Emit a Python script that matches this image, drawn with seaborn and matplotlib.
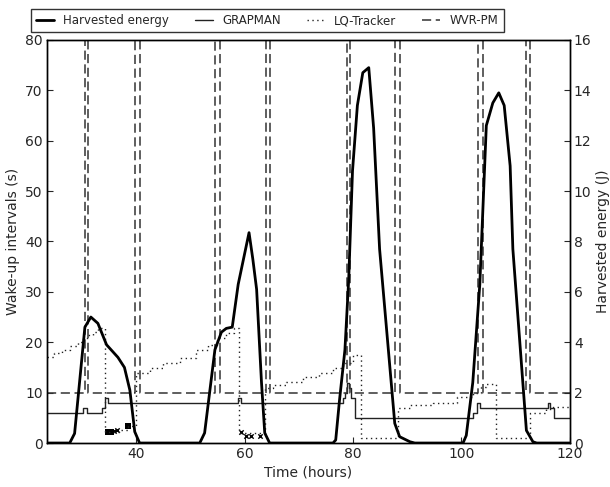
import numpy as np
import pandas as pd
import matplotlib
matplotlib.use("Agg")
import matplotlib.pyplot as plt
import seaborn as sns

# harvested energy (J), right axis
energy_t = [23.5, 27.7, 28.6, 30.5, 31.6, 32.9, 34.5, 36.6, 37.8, 38.8, 39.7, 40.6,
            51.7, 52.6, 54.5, 55.7, 56.6, 57.7, 58.8, 60.8, 61.5, 62.2, 63.1, 63.7, 64.6,
            76.3, 76.8, 77.5, 78.5, 79.2, 79.9, 80.8, 81.8, 82.9, 83.8, 84.9, 87.7, 88.6, 90.5, 91.4,
            100.3, 100.9, 102.1, 103.4, 104.6, 105.8, 106.9, 107.9, 109.0, 109.5, 112.0, 113.2, 113.9, 120.0]
energy_v = [0, 0, 0.38, 4.6, 5.0, 4.75, 3.9, 3.4, 3.0, 2.1, 0.45, 0,
            0, 0.4, 3.7, 4.4, 4.55, 4.6, 6.3, 8.35, 7.3, 6.1, 2.4, 0.4, 0,
            0, 0.12, 1.7, 3.7, 6.5, 10.8, 13.4, 14.7, 14.9, 12.5, 7.7, 0.78, 0.25, 0.05, 0,
            0, 0.3, 2.4, 6.3, 12.6, 13.5, 13.9, 13.4, 11.0, 7.7, 0.5, 0.05, 0, 0]

# GRAPMAN wake-up interval (s)
grap_t = [23.5, 30.2, 30.8, 33.7, 34.3, 34.8, 58.7, 59.3, 78.1, 78.6, 78.9, 79.3, 79.7, 80.3,
          102.1, 102.8, 103.4, 116.0, 116.4, 117.1, 120.0]
grap_v = [6, 7, 6, 7, 9, 8, 9, 8, 9, 10, 12, 11, 9, 5, 6, 8, 7, 8, 7, 5, 5]

# LQ-Tracker wake-up interval (s)
lq_t = [23.5, 24.8, 26.3, 27.8, 29.2, 30.2, 31.0, 32.0, 33.0, 34.2, 36.8, 38.5, 39.9, 42.5,
        44.9, 48.0, 51.1, 53.2, 54.8, 56.6, 58.0, 59.0, 63.7, 65.2, 67.7, 70.7, 73.8, 76.3,
        78.2, 80.0, 81.5, 88.3, 90.5, 94.7, 99.1, 102.1, 103.7, 104.6, 106.3, 112.6, 115.7,
        116.9, 120.0]
lq_v = [17, 17.8, 18.5, 19.2, 20, 20.8, 21.5, 22.1, 22.8, 2.2, 2.5, 3.4, 13.8, 14.8,
        15.8, 16.8, 18.5, 19.5, 20.8, 21.8, 22.8, 2.0, 10.9, 11.5, 12.2, 13.2, 13.8, 14.8,
        15.8, 17.5, 0.9, 6.9, 7.5, 7.9, 9.2, 9.9, 11.2, 11.8, 0.9, 5.9, 6.7,
        7.2, 6.9]

# scattered LQ-Tracker marks near the bottom
blob_t = [34.7, 35.0, 35.3, 38.5]
blob_v = [2.2, 2.2, 2.2, 3.4]
cross_t = [35.9, 36.4, 59.4, 60.3, 61.2, 62.8]
cross_v = [2.4, 2.6, 2.2, 1.4, 1.4, 1.4]

# WVR-PM wake-up interval (s)
wvr_t = [23.5, 30.5, 31.1, 39.7, 40.6, 54.6, 55.4, 64.0, 64.7, 78.8, 79.4, 87.7, 88.6,
         103.0, 103.9, 112.0, 112.6, 120.0]
wvr_v = [10, 200, 10, 200, 10, 200, 10, 200, 10, 200, 10, 200, 10, 200, 10, 200, 10, 10]

sns.set_style("ticks")
plt.rcParams.update({
    "font.family": ["DejaVu Sans"],
    "font.size": 10,
    "xtick.direction": "in",
    "ytick.direction": "in",
    "xtick.major.size": 4,
    "ytick.major.size": 4,
    "xtick.major.pad": 3,
    "ytick.major.pad": 3,
    "axes.edgecolor": "black",
    "axes.linewidth": 1.0,
})

fig, ax = plt.subplots(figsize=(6.1, 4.87), dpi=100)
fig.subplots_adjust(left=0.077, right=0.934, bottom=0.0903, top=0.918)

ax2 = ax.twinx()

sns.lineplot(x=grap_t, y=grap_v, ax=ax, color="#222222", lw=1.0,
             drawstyle="steps-post", estimator=None, label="GRAPMAN")
sns.lineplot(x=lq_t, y=lq_v, ax=ax, color="#222222", lw=1.0, linestyle=(0, (1, 2.5)),
             drawstyle="steps-post", estimator=None, label="LQ-Tracker")
sns.lineplot(x=wvr_t, y=wvr_v, ax=ax, color="#333333", lw=1.1, linestyle=(0, (6, 3)),
             drawstyle="steps-post", estimator=None, label="WVR-PM")
sns.scatterplot(x=blob_t, y=blob_v, ax=ax, color="black", marker="s", s=14,
                linewidth=0, legend=False)
sns.scatterplot(x=cross_t, y=cross_v, ax=ax, color="black", marker="x", s=10,
                linewidth=1.0, legend=False)

sns.lineplot(x=energy_t, y=energy_v, ax=ax2, color="black", lw=2.0,
             estimator=None, label="Harvested energy")

ax.set_xlim(23.5, 120)
ax.set_ylim(0, 80)
ax2.set_ylim(0, 16)
ax.set_xticks([40, 60, 80, 100, 120])
ax.set_yticks(range(0, 81, 10))
ax2.set_yticks(range(0, 17, 2))
ax.tick_params(right=False)
ax.set_xlabel("Time (hours)", labelpad=3)
ax.set_ylabel("Wake-up intervals (s)", labelpad=4)
ax2.set_ylabel("Harvested energy (J)", labelpad=3)

h1, l1 = ax2.get_legend_handles_labels()
h2, l2 = ax.get_legend_handles_labels()
if ax2.get_legend() is not None:
    ax2.get_legend().remove()
leg = ax.legend(h1 + h2, l1 + l2, loc="upper left", bbox_to_anchor=(0.041, 0.994),
                bbox_transform=fig.transFigure, ncol=4, frameon=True, fancybox=False,
                edgecolor="black", handlelength=1.5, handletextpad=0.8,
                columnspacing=2.2, borderpad=0.45, fontsize=8.5)
leg.get_frame().set_linewidth(1.0)

fig.savefig("out.png", dpi=100)
